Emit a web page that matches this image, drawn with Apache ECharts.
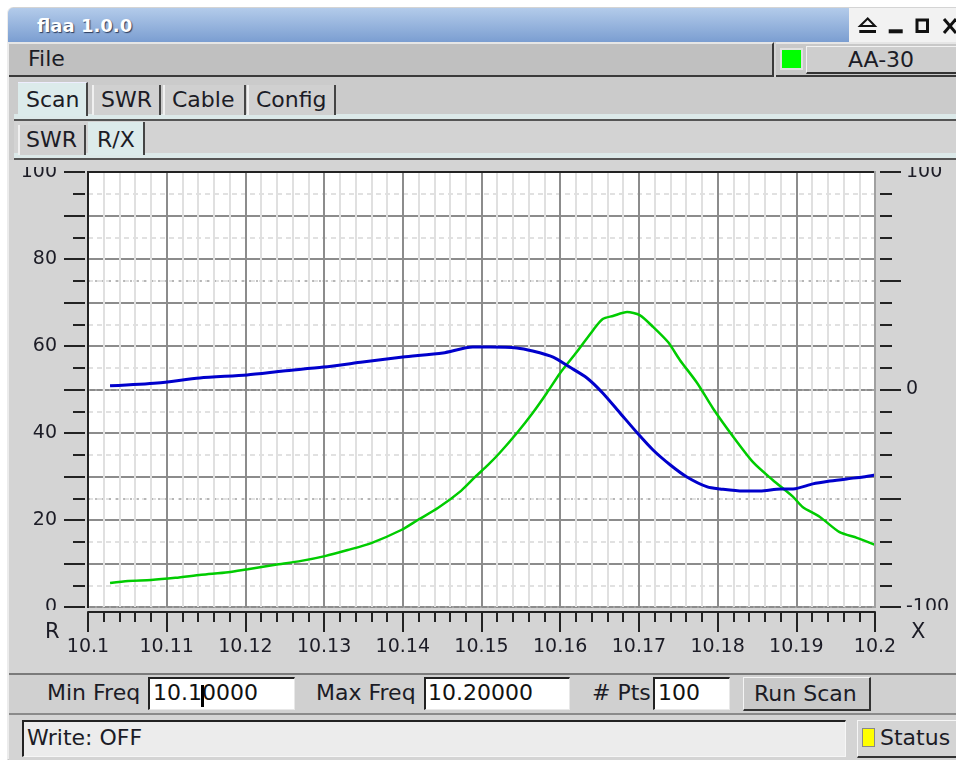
<!DOCTYPE html>
<html><head><meta charset="utf-8">
<script src="https://cdn.jsdelivr.net/npm/echarts@6/dist/echarts.min.js"></script>
<style>
html,body{margin:0;padding:0;background:#fff;width:956px;height:763px;overflow:hidden}
.a{position:absolute;box-sizing:border-box;font-family:'DejaVu Sans';font-size:22px;color:#1c1c26;white-space:nowrap}
.t{height:22px;line-height:22px}
#c{position:absolute;left:0;top:0;width:956px;height:763px;z-index:5}
.ov{z-index:10}
</style>
</head><body>
<!-- window frame -->
<div class="a" style="left:7px;top:7px;width:949px;height:753px;background:#d4d4d4;border-left:2px solid #ececec;border-bottom:1px solid #b8b8b8;border-top-left-radius:6px"></div>
<!-- title bar -->
<div class="a" style="left:8px;top:8px;width:841px;height:34px;background:linear-gradient(#b3cbea,#7b9ed1);border-top-left-radius:5px"></div>
<div class="a" style="left:849px;top:8px;width:107px;height:34px;background:#f2f2f2"></div>
<div class="a" style="left:37px;top:17px;height:18px;line-height:18px;font-size:18px;font-weight:bold;color:#fff;text-shadow:1px 1px 1px #2c3c5c">flaa 1.0.0</div>
<svg class="a" style="left:849px;top:8px" width="107" height="34">
 <polygon points="11,18 18.7,10.5 26,18" fill="none" stroke="#111" stroke-width="2"/>
 <rect x="10.3" y="22" width="16.7" height="3" fill="#111"/>
 <rect x="39.7" y="21.3" width="14" height="4" fill="#111"/>
 <rect x="68" y="12" width="10.5" height="11.5" fill="none" stroke="#111" stroke-width="3"/>
 <line x1="95" y1="11" x2="107" y2="25" stroke="#111" stroke-width="3"/>
 <line x1="95" y1="25" x2="107" y2="11" stroke="#111" stroke-width="3"/>
</svg>
<!-- menu bar -->
<div class="a" style="left:9px;top:42px;width:765px;height:35px;background:#c0c0c0;border-top:2px solid #e6e6e6;border-bottom:2px solid #3a3a3a;border-right:2px solid #3a3a3a"></div>
<div class="a" style="left:776px;top:42px;width:180px;height:35px;background:#c8c8c8;border-top:2px solid #e6e6e6;border-bottom:2px solid #3a3a3a"></div>
<div class="a t" style="left:28px;top:48px">File</div>
<div class="a" style="left:780px;top:48px;width:23px;height:22px;background:#00ff00;border:2px solid #e0e0e0"></div>
<div class="a" style="left:806px;top:46px;width:152px;height:28px;background:#cecece;border-top:1px solid #f2f2f2;border-left:1px solid #f2f2f2;border-bottom:2px solid #333"></div>
<div class="a t" style="left:806px;top:49px;width:150px;text-align:center">AA-30</div>
<!-- tab rows -->
<div class="a" style="left:9px;top:77px;width:947px;height:83px;background:#cbcbcb"></div>
<div class="a" style="left:14px;top:114px;width:942px;height:7px;background:#dce9e9;border-bottom:2px solid #555"></div>
<div class="a" style="left:18px;top:82px;width:70px;height:34px;background:#dcebeb;border-right:2px solid #444;border-top:1px solid #eef"></div>
<div class="a" style="left:92px;top:85px;width:69px;height:30px;background:#d0d0d0;border-left:2px solid #f0f0f0;border-right:2px solid #444"></div>
<div class="a" style="left:163px;top:85px;width:83px;height:30px;background:#d0d0d0;border-left:2px solid #f0f0f0;border-right:2px solid #444"></div>
<div class="a" style="left:247px;top:85px;width:89px;height:30px;background:#d0d0d0;border-left:2px solid #f0f0f0;border-right:2px solid #444"></div>
<div class="a t" style="left:26px;top:89px">Scan</div>
<div class="a t" style="left:101px;top:89px">SWR</div>
<div class="a t" style="left:172px;top:89px">Cable</div>
<div class="a t" style="left:256px;top:89px">Config</div>
<div class="a" style="left:14px;top:121px;width:942px;height:33px;background:#d3d3d3"></div>
<div class="a" style="left:14px;top:153px;width:942px;height:7px;background:#dce9e9;border-bottom:2px solid #555"></div>
<div class="a" style="left:18px;top:125px;width:68px;height:30px;background:#d0d0d0;border-left:2px solid #f0f0f0;border-right:2px solid #444"></div>
<div class="a" style="left:88px;top:122px;width:57px;height:33px;background:#dcebeb;border-right:2px solid #444"></div>
<div class="a t" style="left:26px;top:129px">SWR</div>
<div class="a t" style="left:97px;top:129px">R/X</div>
<!-- chart panel -->
<div class="a" style="left:9px;top:160px;width:947px;height:513px;background:#d4d4d4"></div>
<!-- controls row -->
<div class="a" style="left:9px;top:673px;width:947px;height:41px;background:#d0d0d0;border-top:2px solid #7a7a7a"></div>
<div class="a t" style="left:47px;top:682px">Min Freq</div>
<div class="a" style="left:148px;top:677px;width:147px;height:33px;background:#fff;border-top:2px solid #222;border-left:2px solid #222;border-right:1px solid #e8e8e8;border-bottom:1px solid #e8e8e8"></div>
<div class="a t" style="left:153px;top:682px;color:#111">10.10000</div>
<div class="a" style="left:201px;top:685px;width:3px;height:22px;background:#000"></div>
<div class="a t" style="left:316px;top:682px">Max Freq</div>
<div class="a" style="left:424px;top:677px;width:146px;height:33px;background:#fff;border-top:2px solid #222;border-left:2px solid #222;border-right:1px solid #e8e8e8;border-bottom:1px solid #e8e8e8"></div>
<div class="a t" style="left:428px;top:682px;color:#111">10.20000</div>
<div class="a t" style="left:592px;top:682px"># Pts</div>
<div class="a" style="left:653px;top:677px;width:77px;height:33px;background:#fff;border-top:2px solid #222;border-left:2px solid #222;border-right:1px solid #e8e8e8;border-bottom:1px solid #e8e8e8"></div>
<div class="a t" style="left:658px;top:682px;color:#111">100</div>
<div class="a" style="left:743px;top:677px;width:128px;height:34px;background:#c9c9c9;border-top:1px solid #f4f4f4;border-left:1px solid #f4f4f4;border-bottom:2px solid #333;border-right:2px solid #333"></div>
<div class="a t" style="left:754px;top:683px">Run Scan</div>
<!-- status row -->
<div class="a" style="left:9px;top:713px;width:947px;height:47px;background:#d4d4d4;border-top:2px solid #8a8a8a"></div>
<div class="a" style="left:22px;top:720px;width:824px;height:37px;background:#ececec;border-top:2px solid #222;border-left:2px solid #222;border-right:1px solid #f6f6f6;border-bottom:1px solid #f6f6f6"></div>
<div class="a t" style="left:27px;top:727px">Write: OFF</div>
<div class="a" style="left:857px;top:720px;width:100px;height:38px;background:#d4d4d4;border-top:1px solid #f6f6f6;border-left:1px solid #f6f6f6;border-bottom:2px solid #333"></div>
<div class="a" style="left:862px;top:728px;width:13px;height:19px;background:#ffff00;border:1px solid #888"></div>
<div class="a t" style="left:880px;top:727px">Status</div>

<div id="c"></div>

<!-- overlays: plot frame and label clipping -->
<div class="a ov" style="left:9px;top:160px;width:947px;height:7px;background:#d4d4d4"></div>
<div class="a ov" style="left:9px;top:610px;width:76px;height:10px;background:#d4d4d4"></div>
<div class="a ov" style="left:878px;top:610px;width:78px;height:10px;background:#d4d4d4"></div>
<div class="a ov" style="left:87px;top:171px;width:789px;height:2px;background:#222"></div>
<div class="a ov" style="left:87px;top:171px;width:2px;height:437px;background:#222"></div>
<div class="a ov" style="left:874px;top:171px;width:2px;height:437px;background:#a0a0a0"></div>
<div class="a ov" style="left:45px;top:621px;height:21px;line-height:21px;font-size:21px">R</div>
<div class="a ov" style="left:911px;top:621px;height:21px;line-height:21px;font-size:21px">X</div>

<script>
// Frequency axis range (MHz) and value axis ranges
const freqRange = [10.1, 10.2];
const rRange = [0, 100];
const xRange = [-100, 100];

// R (resistance, green, left axis)
const freqR = [10.1028, 10.1051, 10.1080, 10.1111, 10.1144, 10.1178, 10.1203, 10.1238, 10.1271, 10.1301,
  10.1330, 10.1360, 10.1398, 10.1419, 10.1445, 10.1474, 10.1492, 10.1508, 10.1523, 10.1545,
  10.1565, 10.1583, 10.1600, 10.1621, 10.1642, 10.1654, 10.1667, 10.1685, 10.1701, 10.1718,
  10.1737, 10.1752, 10.1774, 10.1794, 10.1820, 10.1845, 10.1870, 10.1896, 10.1908, 10.1930,
  10.1955, 10.1977, 10.2000];
const valR = [5.5, 6.0, 6.2, 6.7, 7.4, 8.0, 8.7, 9.7, 10.6, 11.7,
  13.1, 14.7, 17.7, 20.0, 22.8, 26.7, 29.9, 32.6, 35.4, 40.0,
  44.6, 49.2, 53.8, 58.6, 63.7, 66.2, 66.9, 67.8, 67.1, 64.4,
  60.9, 56.8, 51.5, 45.7, 39.1, 33.3, 29.2, 25.3, 23.0, 20.7,
  17.2, 15.9, 14.3];

// X (reactance, blue, right axis)
const freqX = [10.1028, 10.1088, 10.1142, 10.1202, 10.1248, 10.1299, 10.1349, 10.1400, 10.1451, 10.1489,
  10.1511, 10.1545, 10.1565, 10.1591, 10.1612, 10.1634, 10.1654, 10.1676, 10.1698, 10.1718,
  10.1740, 10.1761, 10.1787, 10.1803, 10.1832, 10.1854, 10.1880, 10.1896, 10.1921, 10.1943,
  10.1964, 10.1985, 10.2000];
const valX = [1.7, 3.0, 5.3, 6.7, 8.5, 10.3, 12.6, 14.9, 16.8, 19.5,
  19.5, 19.1, 17.7, 14.9, 10.3, 5.3, -1.6, -10.8, -20.0, -27.8,
  -34.7, -40.2, -44.8, -45.7, -46.7, -46.7, -45.7, -45.7, -43.4, -42.1,
  -41.1, -40.2, -39.3];

const FONT = 'DejaVu Sans';
const TXT = '#1c1c26';
const TICK = '#222';

const chart = echarts.init(document.getElementById('c'), null, {renderer: 'canvas'});
chart.setOption({
  animation: false,
  backgroundColor: 'transparent',
  grid: {left: 88, top: 172, width: 787, height: 435, show: true, backgroundColor: '#fff', borderWidth: 0},
  xAxis: {
    type: 'value', min: freqRange[0], max: freqRange[1], interval: 0.01, offset: 5,
    axisLine: {show: true, onZero: false, lineStyle: {color: TICK, width: 2}},
    axisTick: {show: true, length: 20, lineStyle: {color: TICK, width: 2}},
    minorTick: {show: true, splitNumber: 5, length: 10, lineStyle: {color: TICK, width: 2}},
    axisLabel: {margin: 26, fontSize: 19, fontFamily: FONT, color: TXT, showMinLabel: true, showMaxLabel: true},
    splitLine: {show: true, lineStyle: {color: '#8c8c8c', width: 2}},
    minorSplitLine: {show: true, lineStyle: {color: '#e0e0e0', width: 2}}
  },
  yAxis: [{
    type: 'value', min: rRange[0], max: rRange[1], interval: 10, position: 'left', offset: 3,
    axisLine: {show: false},
    axisTick: {show: true, length: 21, lineStyle: {color: TICK, width: 2}},
    minorTick: {show: true, splitNumber: 2, length: 12, lineStyle: {color: TICK, width: 2}},
    axisLabel: {margin: 28, fontSize: 19, fontFamily: FONT, color: TXT,
      formatter: v => (v % 20 === 0 ? String(v) : '')},
    splitLine: {show: true, lineStyle: {color: '#8c8c8c', width: 2}},
    minorSplitLine: {show: true, lineStyle: {color: '#d8d8d8', width: 1.5, type: [5, 4]}}
  }, {
    type: 'value', min: xRange[0], max: xRange[1], interval: 50, position: 'right', offset: 5,
    axisLine: {show: false},
    axisTick: {show: true, length: 21, lineStyle: {color: TICK, width: 2}},
    minorTick: {show: true, splitNumber: 5, length: 12, lineStyle: {color: TICK, width: 2}},
    axisLabel: {margin: 26, fontSize: 19, fontFamily: FONT, color: TXT,
      formatter: v => (v % 100 === 0 ? String(v) : '')},
    splitLine: {show: true, lineStyle: {color: '#a8a8a8', width: 1.5, type: [2, 5]}}
  }],
  series: [{
    name: 'R', type: 'line', yAxisIndex: 0, showSymbol: false, smooth: 0.25,
    data: freqR.map((f, i) => [f, valR[i]]),
    lineStyle: {color: '#00cc00', width: 2.5}, itemStyle: {color: '#00cc00'}
  }, {
    name: 'X', type: 'line', yAxisIndex: 1, showSymbol: false, smooth: 0.25,
    data: freqX.map((f, i) => [f, valX[i]]),
    lineStyle: {color: '#0000cc', width: 3}, itemStyle: {color: '#0000cc'}
  }]
});
</script>
</body></html>
